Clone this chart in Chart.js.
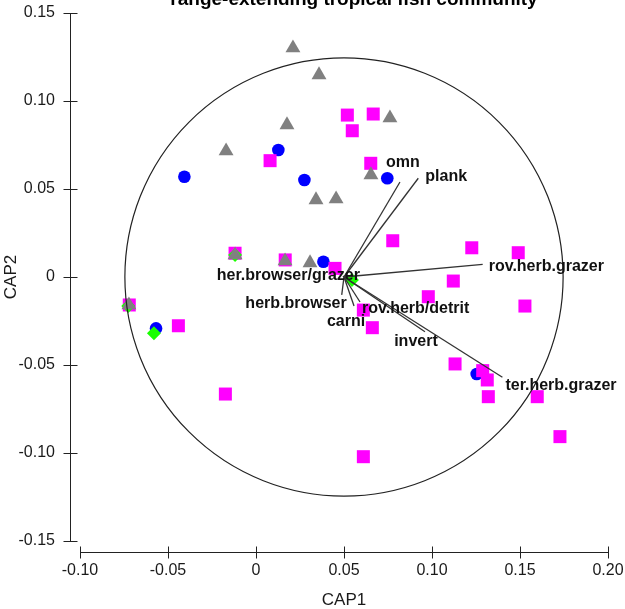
<!DOCTYPE html>
<html>
<head>
  <title>CAP ordination</title>
  <script src="https://cdn.jsdelivr.net/npm/chart.js"></script>
  <style>
    body { margin: 0; background: #fff; }
  </style>
</head>
<body>
  <canvas id="capChart" width="625" height="609"></canvas>

  <script>
    // sample scores, [CAP1, CAP2]
    const greyTriangles = [
      [0.0210, 0.1301], [0.0358, 0.1148], [-0.0170, 0.0716], [0.0176, 0.0864],
      [0.0761, 0.0903], [0.0341, 0.0438], [0.0455, 0.0443], [0.0653, 0.0580],
      [-0.0119, 0.0125], [0.0165, 0.0091], [0.0307, 0.0080], [-0.0722, -0.0159]
    ];
    const blueCircles = [
      [-0.0407, 0.0570], [0.0127, 0.0722], [0.0275, 0.0551], [0.0383, 0.0087],
      [0.0746, 0.0561], [-0.0568, -0.0292], [0.1254, -0.0551]
    ];
    const magentaSquares = [
      [0.0519, 0.0920], [0.0666, 0.0926], [0.0547, 0.0831], [0.0080, 0.0661],
      [0.0652, 0.0646], [-0.0119, 0.0135], [0.0166, 0.0097], [0.0449, 0.0049],
      [0.0777, 0.0206], [0.1226, 0.0166], [0.1490, 0.0138], [0.1121, -0.0023],
      [0.0979, -0.0112], [0.1528, -0.0165], [0.0610, -0.0188], [0.0661, -0.0288],
      [0.1131, -0.0494], [0.1288, -0.0532], [0.1314, -0.0585], [0.1320, -0.0680],
      [0.1598, -0.0680], [0.1727, -0.0907], [0.0610, -0.1021], [-0.0720, -0.0159],
      [-0.0441, -0.0277], [-0.0174, -0.0665]
    ];
    const greenDiamonds = [
      [-0.0119, 0.0125], [-0.0726, -0.0165], [-0.0580, -0.0320], [0.0545, -0.0017]
    ];

    // trophic group vectors
    const vectorOrigin = [0.05, 0];
    const vectorNames = ['omn', 'plank', 'rov.herb.grazer', 'ter.herb.grazer', 'invert',
      'rov.herb/detrit', 'carni', 'herb.browser', 'her.browser/grazer'];
    const vectorX = [0.0818, 0.0922, 0.1288, 0.1400, 0.0960, 0.0591, 0.0557, 0.0487, 0.0494];
    const vectorY = [0.0540, 0.0561, 0.0072, -0.0570, -0.0311, -0.0142, -0.0165, -0.0102, 0.0006];

    const circleCenter = [0.05, 0];
    const circleRadius = 0.1245;

    const xTickValues = [-0.10, -0.05, 0, 0.05, 0.10, 0.15, 0.20];
    const xTickLabels = ['-0.10', '-0.05', '0', '0.05', '0.10', '0.15', '0.20'];
    const yTickValues = [-0.15, -0.10, -0.05, 0, 0.05, 0.10, 0.15];
    const yTickLabels = ['-0.15', '-0.10', '-0.05', '0', '0.05', '0.10', '0.15'];

    // where each vector label sits relative to the arrow tip (px)
    const labelPlace = {
      'omn': [3, -19, 'center'],
      'plank': [7, -2, 'left'],
      'rov.herb.grazer': [6, 2, 'left'],
      'ter.herb.grazer': [3, 8, 'left'],
      'invert': [-9, 10, 'center'],
      'rov.herb/detrit': [2, 7, 'left'],
      'carni': [-8, 16, 'center'],
      'herb.browser': [5, 9, 'right'],
      'her.browser/grazer': [17, 0, 'right']
    };

    const FONT = "'Liberation Sans', Arial, sans-serif";
    const toPts = arr => arr.map(p => ({ x: p[0], y: p[1] }));

    const pointSet = (label, arr, color, style, r) => ({
      label: label,
      data: toPts(arr),
      backgroundColor: color,
      borderWidth: 0,
      pointStyle: style,
      pointRadius: r,
      pointHoverRadius: r,
      clip: false
    });

    // chart.js paints dataset 0 last, so the list runs top layer first
    const datasets = [];
    vectorNames.forEach((name, i) => {
      datasets.push({
        label: name,
        data: [{ x: vectorOrigin[0], y: vectorOrigin[1] }, { x: vectorX[i], y: vectorY[i] }],
        showLine: true,
        borderColor: '#333',
        borderWidth: 1.3,
        pointRadius: 0,
        clip: false
      });
    });
    datasets.push(
      pointSet('triangles', greyTriangles, '#808080', 'triangle', 8.6),
      pointSet('diamonds', greenDiamonds, '#1aff00', 'rectRot', 7),
      pointSet('squares', magentaSquares, '#ff00ff', 'rect', 9.2),
      pointSet('circles', blueCircles, '#0000ff', 'circle', 6.3)
    );

    const decor = {
      id: 'decor',
      afterDatasetsDraw(chart) {
        const ctx = chart.ctx;
        const xs = chart.scales.x, ys = chart.scales.y;
        ctx.save();
        // correlation circle
        const cx = xs.getPixelForValue(circleCenter[0]);
        const cy = ys.getPixelForValue(circleCenter[1]);
        const rx = xs.getPixelForValue(circleCenter[0] + circleRadius) - cx;
        const ry = cy - ys.getPixelForValue(circleCenter[1] + circleRadius);
        ctx.strokeStyle = '#222';
        ctx.lineWidth = 1.2;
        ctx.beginPath();
        ctx.ellipse(cx, cy, rx, ry, 0, 0, Math.PI * 2);
        ctx.stroke();

        // vector labels
        ctx.fillStyle = '#111';
        ctx.font = 'bold 16px ' + FONT;
        ctx.textBaseline = 'middle';
        vectorNames.forEach((name, i) => {
          const p = labelPlace[name];
          ctx.textAlign = p[2];
          ctx.fillText(name, xs.getPixelForValue(vectorX[i]) + p[0], ys.getPixelForValue(vectorY[i]) + p[1]);
        });
        ctx.restore();
      },
      afterDraw(chart) {
        const ctx = chart.ctx;
        const xs = chart.scales.x, ys = chart.scales.y;
        const area = chart.chartArea;
        ctx.save();
        ctx.strokeStyle = '#222';
        ctx.lineWidth = 1;

        // detached y axis
        const ax = Math.round(area.left - 10) + 0.5;
        ctx.beginPath();
        ctx.moveTo(ax, ys.getPixelForValue(yTickValues[yTickValues.length - 1]));
        ctx.lineTo(ax, ys.getPixelForValue(yTickValues[0]));
        yTickValues.forEach(v => {
          const py = Math.round(ys.getPixelForValue(v)) + 0.5;
          ctx.moveTo(ax - 7, py);
          ctx.lineTo(ax + 7, py);
        });
        ctx.stroke();

        // detached x axis
        const ay = Math.round(area.bottom + 11) + 0.5;
        ctx.beginPath();
        ctx.moveTo(xs.getPixelForValue(xTickValues[0]), ay);
        ctx.lineTo(xs.getPixelForValue(xTickValues[xTickValues.length - 1]), ay);
        xTickValues.forEach(v => {
          const px = Math.round(xs.getPixelForValue(v)) + 0.5;
          ctx.moveTo(px, ay - 6);
          ctx.lineTo(px, ay + 6);
        });
        ctx.stroke();

        // title, clipped at the top edge like the original
        ctx.fillStyle = '#000';
        ctx.font = 'bold 19px ' + FONT;
        ctx.textAlign = 'center';
        ctx.textBaseline = 'alphabetic';
        ctx.fillText('range-extending tropical fish community', 354, 5);
        ctx.restore();
      }
    };

    new Chart(document.getElementById('capChart'), {
      type: 'scatter',
      data: { datasets: datasets },
      options: {
        responsive: false,
        animation: false,
        devicePixelRatio: 1,
        layout: { padding: { top: 13, right: 17, left: 0, bottom: 0 } },
        plugins: {
          legend: { display: false },
          tooltip: { enabled: false },
          title: { display: false }
        },
        scales: {
          x: {
            type: 'linear',
            min: -0.10,
            max: 0.20,
            afterBuildTicks: axis => { axis.ticks = xTickValues.map(v => ({ value: v })); },
            afterFit: axis => { axis.height = 68; },
            ticks: {
              callback: (v, i) => xTickLabels[i],
              font: { family: FONT, size: 16 },
              color: '#1a1a1a',
              padding: 0,
              maxRotation: 0,
              autoSkip: false
            },
            grid: { display: false, tickLength: 20 },
            border: { display: false },
            title: {
              display: true,
              text: 'CAP1',
              font: { family: FONT, size: 17, lineHeight: 1 },
              color: '#1a1a1a',
              padding: { top: 0, bottom: 0 }
            }
          },
          y: {
            type: 'linear',
            min: -0.15,
            max: 0.15,
            afterBuildTicks: axis => { axis.ticks = yTickValues.map(v => ({ value: v })); },
            afterFit: axis => { axis.width = 80; },
            ticks: {
              callback: (v, i) => yTickLabels[i],
              font: { family: FONT, size: 16 },
              color: '#1a1a1a',
              padding: 3,
              autoSkip: false
            },
            grid: { display: false, tickLength: 22 },
            border: { display: false },
            title: {
              display: true,
              text: 'CAP2',
              font: { family: FONT, size: 17, lineHeight: 1 },
              color: '#1a1a1a',
              padding: { top: 3, bottom: 0 }
            }
          }
        }
      },
      plugins: [decor]
    });
  </script>
</body>
</html>
